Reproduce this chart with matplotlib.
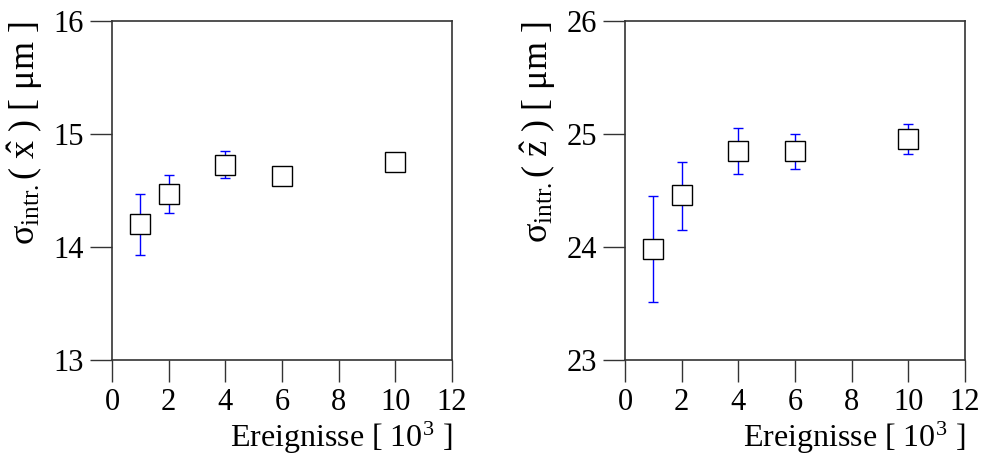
import matplotlib
matplotlib.use('Agg')
import matplotlib.pyplot as plt

plt.rcParams['font.family'] = ['Liberation Serif', 'DejaVu Serif']
plt.rcParams['mathtext.fontset'] = 'custom'
plt.rcParams['mathtext.rm'] = 'Liberation Serif'
plt.rcParams['mathtext.it'] = 'Liberation Serif:italic'

# events in units of 10^3
events = [1, 2, 4, 6, 10]

# sigma_intr (x) [um] with lower / upper errors
sig_x = [14.20, 14.47, 14.73, 14.63, 14.75]
sig_x_lo = [0.27, 0.17, 0.12, 0.0, 0.0]
sig_x_hi = [0.27, 0.17, 0.12, 0.0, 0.0]

# sigma_intr (z) [um]
sig_z = [23.98, 24.46, 24.85, 24.85, 24.96]
sig_z_lo = [0.47, 0.31, 0.20, 0.16, 0.14]
sig_z_hi = [0.47, 0.29, 0.20, 0.15, 0.13]

x_ticks = [0, 2, 4, 6, 8, 10, 12]
y_ticks_x = [13, 14, 15, 16]
y_ticks_z = [23, 24, 25, 26]

fig = plt.figure(figsize=(9.86, 4.67), dpi=100)
ax1 = fig.add_axes([0.1136, 0.229, 0.3448, 0.726])
ax2 = fig.add_axes([0.6339, 0.229, 0.3448, 0.726])

panels = [
    (ax1, sig_x, sig_x_lo, sig_x_hi, y_ticks_x, r'σ$_{\mathrm{intr.}}$( $\hat{\mathrm{x}}$ ) [ μm ]'),
    (ax2, sig_z, sig_z_lo, sig_z_hi, y_ticks_z, r'σ$_{\mathrm{intr.}}$( $\hat{\mathrm{z}}$ ) [ μm ]'),
]

for ax, vals, lo, hi, yt, ylab in panels:
    ax.errorbar(events, vals, yerr=[lo, hi], fmt='none', ecolor='#0000ff',
                elinewidth=1, capsize=3.6, capthick=1, zorder=2)
    ax.plot(events, vals, 's', markersize=15, markerfacecolor='white',
            markeredgecolor='black', markeredgewidth=1, zorder=3)
    ax.set_xlim(0, 12)
    ax.set_ylim(yt[0], yt[-1])
    ax.set_xticks(x_ticks)
    ax.set_yticks(yt)
    ax.tick_params(direction='out', length=16, width=1, labelsize=22,
                   color='#333333', top=False, right=False, pad=4)
    for sp in ax.spines.values():
        sp.set_linewidth(1.2)
        sp.set_color('#333333')
    ax.set_xlabel(r'Ereignisse [ 10$^3$ ]', fontsize=23, loc='right', labelpad=2)
    ax.set_ylabel(ylab, fontsize=26, loc='top', labelpad=6)

fig.savefig('out.png', dpi=100)
